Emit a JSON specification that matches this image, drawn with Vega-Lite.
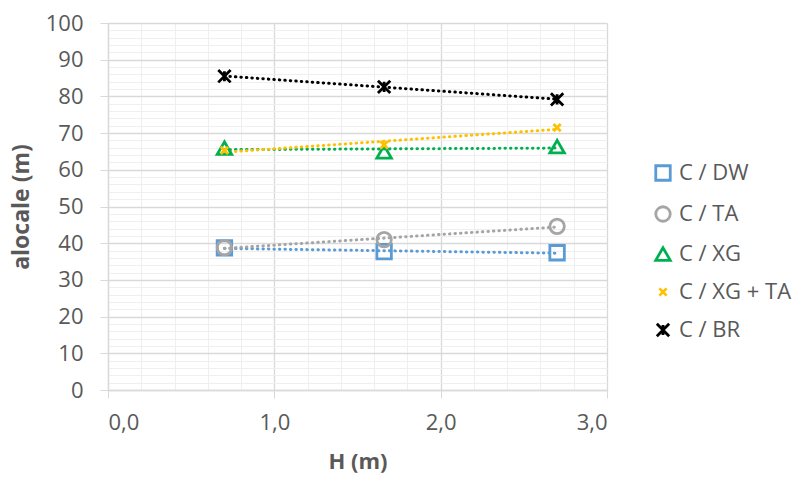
{
  "$schema": "https://vega.github.io/schema/vega-lite/v6.json",
  "width": 499,
  "height": 367,
  "autosize": {"type": "none"},
  "padding": {"left": 108, "top": 23, "right": 191, "bottom": 88},
  "background": "white",
  "config": {
    "font": "Open Sans",
    "view": {"stroke": null}
  },
  "data": {
    "values": [
      {"H": 0.70, "a": 38.7, "s": "C / DW"},
      {"H": 1.66, "a": 37.7, "s": "C / DW"},
      {"H": 2.70, "a": 37.4, "s": "C / DW"},
      {"H": 0.70, "a": 38.8, "s": "C / TA"},
      {"H": 1.66, "a": 41.0, "s": "C / TA"},
      {"H": 2.70, "a": 44.6, "s": "C / TA"},
      {"H": 0.70, "a": 65.9, "s": "C / XG"},
      {"H": 1.66, "a": 64.9, "s": "C / XG"},
      {"H": 2.70, "a": 66.3, "s": "C / XG"},
      {"H": 0.70, "a": 65.3, "s": "C / XG + TA"},
      {"H": 1.66, "a": 66.8, "s": "C / XG + TA"},
      {"H": 2.70, "a": 71.5, "s": "C / XG + TA"},
      {"H": 0.70, "a": 85.5, "s": "C / BR"},
      {"H": 1.66, "a": 82.6, "s": "C / BR"},
      {"H": 2.70, "a": 79.2, "s": "C / BR"}
    ]
  },
  "resolve": {"axis": {"x": "independent", "y": "independent"}},
  "layer": [
    {
      "mark": {"type": "point", "opacity": 0},
      "encoding": {
        "x": {"field": "H", "type": "quantitative", "scale": {"domain": [0, 3], "nice": false},
          "axis": {"orient": "bottom", "values": [0.2,0.4,0.6,0.8,1.2,1.4,1.6,1.8,2.2,2.4,2.6,2.8], "grid": true, "gridColor": "#efefef", "gridWidth": 1, "labels": false, "ticks": false, "domain": false, "title": null}},
        "y": {"field": "a", "type": "quantitative", "scale": {"domain": [0, 100], "nice": false},
          "axis": {"orient": "left", "values": [2,4,6,8,12,14,16,18,22,24,26,28,32,34,36,38,42,44,46,48,52,54,56,58,62,64,66,68,72,74,76,78,82,84,86,88,92,94,96,98], "grid": true, "gridColor": "#efefef", "gridWidth": 1, "labels": false, "ticks": false, "domain": false, "title": null}}
      }
    },
    {
      "transform": [{"regression": "a", "on": "H", "groupby": ["s"], "method": "linear"}],
      "mark": {"type": "line", "strokeDash": [0.5, 5], "strokeCap": "round", "strokeWidth": 3},
      "encoding": {
        "x": {"field": "H", "type": "quantitative", "scale": {"domain": [0, 3], "nice": false},
          "axis": {"orient": "bottom", "values": [0, 1, 2, 3], "grid": true, "gridColor": "#d9d9d9", "gridWidth": 1.3,
            "labelExpr": "replace(format(datum.value, '.1f'), '.', ',')",
            "labelFontSize": 22, "labelColor": "#595959", "labelPadding": 14,
            "tickColor": "#d9d9d9", "tickSize": 8, "domainColor": "#d9d9d9", "domainWidth": 1.3,
            "title": "H (m)", "titleFontSize": 22, "titleFontWeight": "bold", "titleColor": "#595959", "titlePadding": 18}},
        "y": {"field": "a", "type": "quantitative", "scale": {"domain": [0, 100], "nice": false},
          "axis": {"orient": "left", "values": [0,10,20,30,40,50,60,70,80,90,100], "grid": true, "gridColor": "#d9d9d9", "gridWidth": 1.3,
            "labelFontSize": 22, "labelColor": "#595959", "labelPadding": 17,
            "tickColor": "#d9d9d9", "tickSize": 8, "domainColor": "#d9d9d9", "domainWidth": 1.3,
            "title": "alocale (m)", "titleFontSize": 23, "titleFontWeight": "bold", "titleColor": "#595959", "titlePadding": 12}},
        "color": {"field": "s", "type": "nominal",
          "scale": {"domain": ["C / DW", "C / TA", "C / XG", "C / XG + TA", "C / BR"], "range": ["#5b9bd5", "#a5a5a5", "#00b050", "#ffc000", "#000000"]}}
      }
    },
    {
      "mark": {"type": "point", "filled": false, "opacity": 1, "strokeWidth": 2.8},
      "encoding": {
        "x": {"field": "H", "type": "quantitative", "scale": {"domain": [0, 3], "nice": false}, "axis": null},
        "y": {"field": "a", "type": "quantitative", "scale": {"domain": [0, 100], "nice": false}, "axis": null},
        "color": {"field": "s", "type": "nominal",
          "scale": {"domain": ["C / DW", "C / TA", "C / XG", "C / XG + TA", "C / BR"], "range": ["#5b9bd5", "#a5a5a5", "#00b050", "#ffc000", "#000000"]},
          "legend": {"title": null, "orient": "none", "legendX": 544, "legendY": 139, "padding": 0, "labelFontSize": 22, "labelColor": "#595959", "rowPadding": 15, "symbolStrokeWidth": 2.8, "labelOffset": 5, "symbolSize": 210}},
        "shape": {"field": "s", "type": "nominal",
          "scale": {"domain": ["C / DW", "C / TA", "C / XG", "C / XG + TA", "C / BR"], "range": ["square", "circle", "triangle-up", "M-0.5,-0.5L0.5,0.5M0.5,-0.5L-0.5,0.5", "M-0.85,-0.85L0.85,0.85M0.85,-0.85L-0.85,0.85M0,-0.7L0,0.7"]}},
        "size": {"value": 210}
      }
    }
  ]
}
